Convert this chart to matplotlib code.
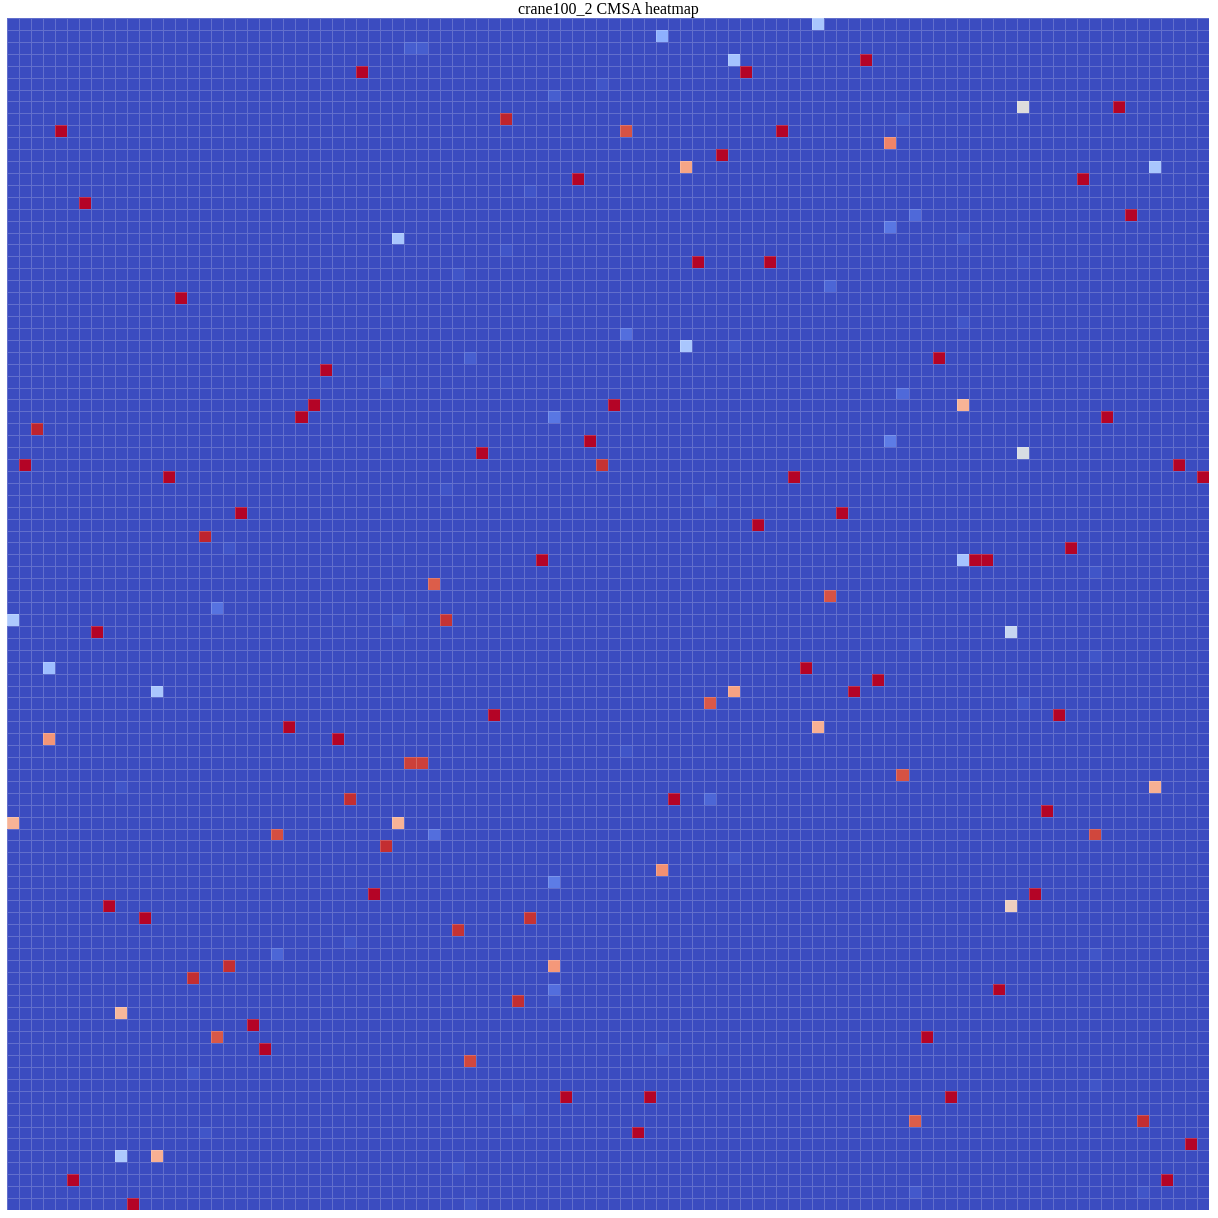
import numpy as np
import matplotlib
matplotlib.use("Agg")
import matplotlib.pyplot as plt

# =========================
# Data (row, column, normalised value)
# =========================

n = 100

hot_rows = [0, 1, 2, 2, 3, 3, 4, 4, 5, 6, 7, 7, 8, 8, 9, 9, 9, 10, 11, 12,
            12, 13, 13, 14, 15, 16, 16, 17, 18, 18, 19, 20, 20, 20, 21, 22, 23, 24, 25, 26,
            27, 27, 28, 28, 29, 30, 31, 32, 32, 32, 33, 33, 33, 34, 35, 35, 36, 36, 37, 37,
            37, 38, 38, 38, 39, 40, 41, 41, 42, 43, 44, 44, 45, 45, 45, 45, 46, 47, 48, 49,
            50, 50, 50, 51, 51, 52, 53, 54, 54, 55, 56, 56, 56, 57, 57, 58, 58, 59, 59, 60,
            60, 61, 62, 62, 63, 64, 64, 65, 65, 65, 66, 67, 67, 68, 68, 68, 69, 70, 71, 72,
            73, 73, 74, 74, 75, 75, 76, 77, 78, 78, 79, 79, 80, 81, 81, 82, 82, 83, 84, 85,
            85, 86, 86, 87, 88, 89, 90, 90, 90, 91, 92, 92, 93, 93, 94, 95, 95, 96, 97, 97,
            98, 98, 99, 99]
hot_cols = [67, 54, 33, 34, 60, 71, 29, 61, 49, 45, 84, 92, 41, 74, 4, 51, 64, 73, 59, 56,
            95, 47, 89, 43, 6, 93, 75, 73, 32, 79, 41, 57, 63, 84, 37, 68, 14, 45, 79, 51,
            56, 60, 77, 38, 26, 31, 74, 25, 50, 79, 24, 45, 91, 2, 48, 73, 39, 84, 1, 49,
            97, 13, 65, 99, 36, 58, 19, 69, 62, 16, 88, 18, 44, 79, 80, 81, 90, 35, 68, 17,
            0, 36, 32, 7, 83, 75, 90, 3, 66, 72, 12, 60, 70, 58, 84, 40, 87, 23, 67, 3,
            27, 51, 33, 34, 74, 95, 9, 28, 55, 58, 86, 0, 32, 22, 35, 90, 31, 60, 54, 45,
            30, 85, 8, 83, 11, 43, 37, 28, 22, 90, 18, 45, 15, 45, 82, 42, 45, 9, 20, 17,
            76, 21, 54, 38, 15, 90, 46, 53, 78, 42, 75, 94, 52, 16, 98, 9, 12, 37, 5, 96,
            75, 94, 10, 38]
hot_vals = [0.33, 0.25, 0.04, 0.04, 0.32, 1.00, 1.00, 1.00, 0.02, 0.04, 0.50, 1.00, 0.97, 0.02, 1.00, 0.90, 1.00, 0.80, 1.00, 0.72,
            0.33, 1.00, 1.00, 0.02, 1.00, 1.00, 0.07, 0.10, 0.33, 0.02, 0.02, 1.00, 1.00, 0.015, 0.02, 0.06, 1.00, 0.02, 0.02, 0.08,
            0.33, 0.02, 1.00, 0.04, 1.00, 0.02, 0.07, 1.00, 1.00, 0.68, 1.00, 0.10, 1.00, 0.97, 1.00, 0.11, 1.00, 0.48, 1.00, 0.95,
            1.00, 1.00, 1.00, 1.00, 0.02, 0.02, 1.00, 1.00, 1.00, 0.97, 1.00, 0.02, 1.00, 0.32, 1.00, 1.00, 0.02, 0.88, 0.90, 0.09,
            0.34, 0.95, 0.02, 1.00, 0.42, 0.02, 0.02, 0.30, 1.00, 1.00, 0.33, 0.73, 1.00, 0.89, 0.02, 1.00, 1.00, 1.00, 0.69, 0.76,
            1.00, 0.02, 0.93, 0.93, 0.90, 0.69, 0.02, 0.96, 1.00, 0.06, 1.00, 0.68, 0.68, 0.91, 0.08, 0.92, 0.96, 0.02, 0.77, 0.11,
            1.00, 1.00, 1.00, 0.58, 1.00, 0.95, 0.95, 0.02, 0.06, 0.02, 0.96, 0.75, 0.96, 0.08, 1.00, 0.96, 0.02, 0.67, 1.00, 0.89,
            1.00, 1.00, 0.02, 0.92, 0.02, 0.02, 1.00, 1.00, 1.00, 0.02, 0.88, 0.96, 1.00, 0.02, 1.00, 0.34, 0.69, 0.02, 1.00, 1.00,
            0.03, 0.02, 1.00, 0.02]

title = "crane100_2 CMSA heatmap"

# =========================
# Build matrix
# =========================

mat = np.zeros((n, n))
for r, c, v in zip(hot_rows, hot_cols, hot_vals):
    mat[r, c] = v

# =========================
# Plot
# =========================

fig = plt.figure(figsize=(12.18, 12.18), dpi=100)
ax = fig.add_axes([7 / 1218, 8 / 1218, 1202 / 1218, 1192 / 1218])

ax.pcolormesh(mat, cmap="coolwarm", vmin=0, vmax=1,
              edgecolors=(1, 1, 1, 0.2), linewidth=0.5)
ax.set_xlim(0, n)
ax.set_ylim(n, 0)
ax.set_xticks([])
ax.set_yticks([])
for s in ax.spines.values():
    s.set_visible(False)

ax.set_title(title, fontsize=11.5, family=["Liberation Serif", "DejaVu Serif"], pad=3)

plt.savefig("out.png", dpi=100)
plt.close()
print("Saved: out.png")
